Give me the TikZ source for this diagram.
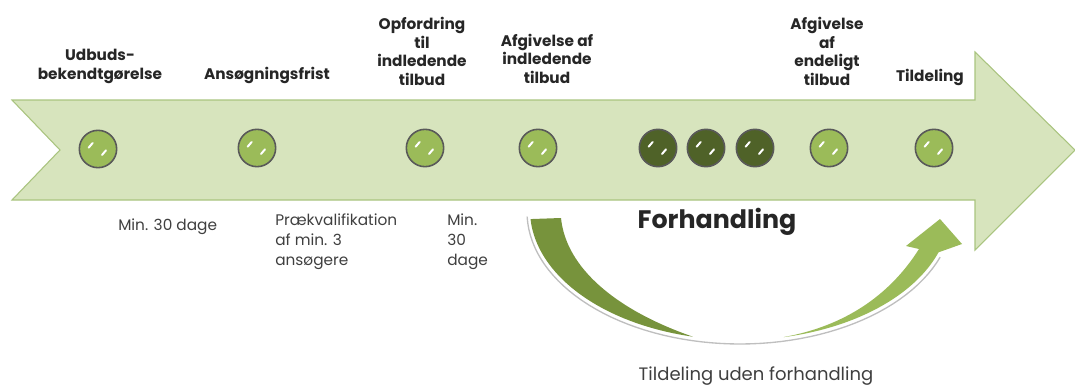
\documentclass[tikz,border=0pt]{standalone}
\usepackage{fontspec}
\setmainfont{Poppins}
\usetikzlibrary{calc, positioning}
\definecolor{bandgreen}{HTML}{D7E4BD}
\definecolor{bandedge}{HTML}{A9C47F}
\definecolor{ballgreen}{HTML}{9BBB59}
\definecolor{darkball}{HTML}{4F6228}
\definecolor{curvedark}{HTML}{77933C}
\definecolor{curvelight}{HTML}{9BBB59}
\definecolor{textgrey}{HTML}{3F3F3F}

\tikzset{
    milestone/.style={circle, draw=black!65, line width=1.2pt, fill=ballgreen, minimum size=28pt, inner sep=0pt,
        path picture={
            \draw[white, line width=1.5pt, line cap=round] ($(path picture bounding box.center)+(-7pt,1pt)$) -- ++(3pt,3.5pt);
            \draw[white, line width=1.5pt, line cap=round] ($(path picture bounding box.center)+(6pt,-1pt)$) -- ++(-3pt,-3.5pt);
        }},
    darkstone/.style={milestone, fill=darkball},
    toplabel/.style={anchor=south, align=center, font=\bfseries\fontsize{11.5}{14}\selectfont, text=black!85, inner sep=0pt},
    lowlabel/.style={anchor=north west, align=left, font=\fontsize{11.5}{15}\selectfont, text=textgrey, inner sep=0pt}
}

\begin{document}
\begin{tikzpicture}[x=0.75pt, y=-0.75pt]
        \useasboundingbox (0,0) rectangle (1075,389);

        % big timeline arrow
        \draw [fill=bandgreen, draw=bandedge, line width=0.8pt] (12,100) -- (975,100) -- (975,52) -- (1075,150) -- (975,250) -- (975,200) -- (12,200) -- (60,150) -- cycle;

        % milestones
        \node[milestone] (M1) at (98,149) {};
        \node[milestone] (M2) at (257,148) {};
        \node[milestone] (M3) at (425,148) {};
        \node[milestone] (M4) at (538,148) {};
        \node[darkstone] (M5) at (658,148) {};
        \node[darkstone] (M6) at (706,148) {};
        \node[darkstone] (M7) at (755,148) {};
        \node[milestone] (M8) at (829,148) {};
        \node[milestone] (M9) at (934,148) {};

        \node[toplabel] (L1) at (100,84) {Udbuds-\\bekendtgørelse};
        \node[toplabel] (L2) at (267,84) {Ansøgningsfrist};
        \node[toplabel] (L3) at (422,86) {Opfordring\\til\\indledende\\tilbud};
        \node[toplabel] (L4) at (547,84) {Afgivelse af\\indledende\\tilbud};
        \node[toplabel] (L8) at (827,86) {Afgivelse\\af\\endeligt\\tilbud};
        \node[toplabel] (L9) at (930,86) {Tildeling};

        % durations below the band
        \node[lowlabel] (D1) at (118,219) {Min. 30 dage};
        \node[lowlabel] (D2) at (275,214) {Prækvalifikation\\af min. 3\\ansøgere};
        \node[lowlabel] (D3) at (447,214) {Min.\\30\\dage};

        % negotiation loop
        \draw [black!25, line width=1pt] plot[domain=178:20, variable=\t, samples=60] ({740+213*cos(\t)}, {212+132*sin(\t)});
        \fill [curvedark] plot[domain=176:103, variable=\t, samples=40] ({740+210*cos(\t)}, {210+130*sin(\t)})
            .. controls (616,310) and (566,268) .. (561,218) -- cycle;
        \fill [curvelight] plot[domain=78:19, variable=\t, samples=40] ({740+210*cos(\t)}, {210+130*sin(\t)})
            -- (962,244) -- (940,219) -- (906,246) -- (919,249)
            .. controls (890,295) and (845,326) .. (784,337) -- cycle;

        \node[font=\bfseries\fontsize{19}{21}\selectfont, text=black!85] (F) at (717,222) {Forhandling};
        \node[font=\fontsize{13.5}{16}\selectfont, text=textgrey] (U) at (756,376) {Tildeling uden forhandling};
    \end{tikzpicture}
\end{document}
